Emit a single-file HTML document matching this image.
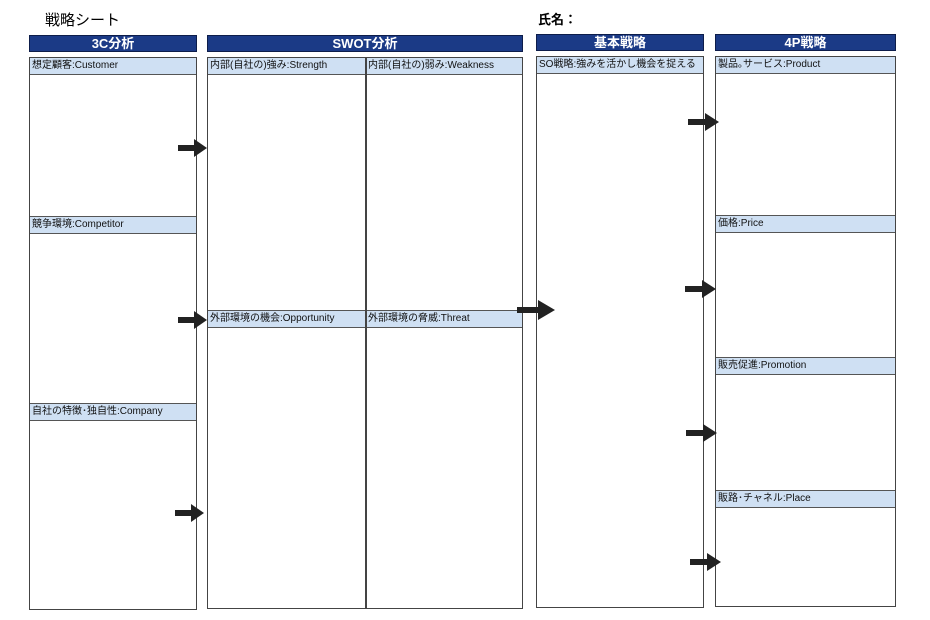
<!DOCTYPE html>
<html><head><meta charset="utf-8"><style>
body{margin:0;width:930px;height:620px;background:#fff;position:relative;overflow:hidden;font-family:"Liberation Sans","Noto Sans CJK JP",sans-serif;}
div{position:absolute;box-sizing:border-box;}
.hd{background:#1b3a86;color:#fff;font-weight:bold;font-size:13px;text-align:center;line-height:16px;height:17px;border:1px solid #0d1d4a;}
.box{border:1.5px solid #444;background:transparent;}
.lb{background:#cfe0f3;border-top:1.5px solid #555;border-bottom:1.5px solid #555;font-size:10px;line-height:15px;padding-left:3px;height:18px;color:#111;white-space:nowrap;}
.vl{width:1.5px;background:#444;}
</style></head><body>
<div style="left:45px;top:9px;font-size:15px;">戦略シート</div>
<div style="left:538px;top:9px;font-size:13px;font-weight:bold;">氏名：</div>

<div class="hd" style="left:29px;top:35px;width:168px;">3C分析</div>
<div class="hd" style="left:207px;top:35px;width:316px;">SWOT分析</div>
<div class="hd" style="left:536px;top:34px;width:168px;">基本戦略</div>
<div class="hd" style="left:715px;top:34px;width:181px;">4P戦略</div>

<!-- labels -->
<div class="lb" style="left:29px;top:57px;width:168px;">想定顧客:Customer</div>
<div class="lb" style="left:29px;top:216px;width:168px;">競争環境:Competitor</div>
<div class="lb" style="left:29px;top:403px;width:168px;">自社の特徴･独自性:Company</div>
<div class="lb" style="left:207px;top:57px;width:159px;">内部(自社の)強み:Strength</div>
<div class="lb" style="left:365px;top:57px;width:158px;">内部(自社の)弱み:Weakness</div>
<div class="lb" style="left:207px;top:310px;width:159px;">外部環境の機会:Opportunity</div>
<div class="lb" style="left:365px;top:310px;width:158px;">外部環境の脅威:Threat</div>
<div class="lb" style="left:536px;top:56px;width:168px;">SO戦略:強みを活かし機会を捉える</div>
<div class="lb" style="left:715px;top:56px;width:181px;">製品｡サービス:Product</div>
<div class="lb" style="left:715px;top:215px;width:181px;">価格:Price</div>
<div class="lb" style="left:715px;top:357px;width:181px;">販売促進:Promotion</div>
<div class="lb" style="left:715px;top:490px;width:181px;">販路･チャネル:Place</div>

<!-- boxes on top -->
<div class="box" style="left:29px;top:57px;width:168px;height:553px;"></div>
<div class="box" style="left:207px;top:57px;width:316px;height:552px;"></div>
<div class="vl" style="left:365px;top:57px;height:552px;"></div>
<div class="box" style="left:536px;top:56px;width:168px;height:552px;"></div>
<div class="box" style="left:715px;top:56px;width:181px;height:551px;"></div>

<svg width="930" height="620" style="position:absolute;left:0;top:0">
<g fill="#222">
<path d="M178 145h16v-6l13 9-13 9v-6h-16z"/>
<path d="M178 317h16v-6l13 9-13 9v-6h-16z"/>
<path d="M175 510h16v-6l13 9-13 9v-6h-16z"/>
<path d="M517 307h21v-7l17 10-17 10v-7h-21z"/>
<path d="M688 119h17v-6l14 9-14 9v-6h-17z"/>
<path d="M685 286h17v-6l14 9-14 9v-6h-17z"/>
<path d="M686 430h17v-6l14 9-14 9v-6h-17z"/>
<path d="M690 559h17v-6l14 9-14 9v-6h-17z"/>
</g></svg>
</body></html>
